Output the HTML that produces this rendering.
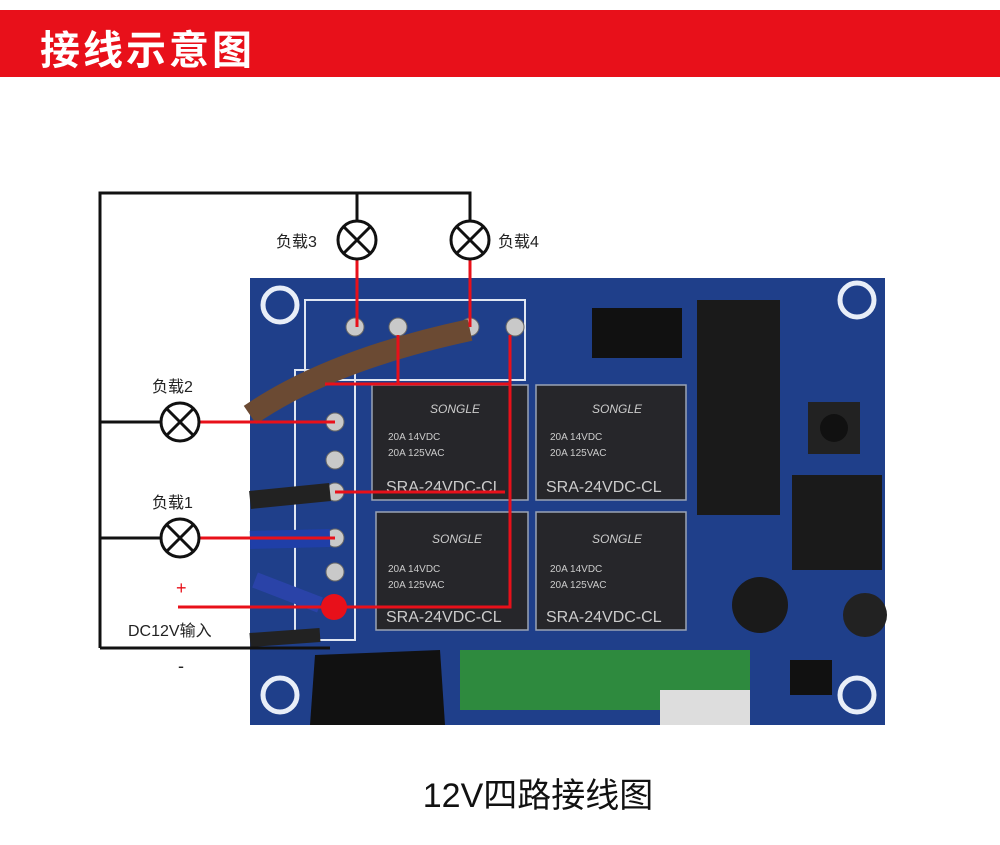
<!DOCTYPE html>
<html><head><meta charset="utf-8"><style>
html,body{margin:0;padding:0;background:#fff;width:1000px;height:845px;overflow:hidden;font-family:"Liberation Sans","Noto Sans CJK SC",sans-serif}
.hdr{position:absolute;left:0;top:10px;width:1000px;height:67px;background:#e8101a}
.hdr span{position:absolute;left:40px;top:8px;color:#fff;font-size:40px;font-weight:bold;letter-spacing:3px;font-family:"Noto Sans CJK SC",sans-serif}
svg{position:absolute;left:0;top:0}
</style></head><body>
<div class="hdr"><span>接线示意图</span></div>
<svg width="1000" height="845" viewBox="0 0 1000 845">
<rect x="250" y="278" width="635" height="447" fill="#1f3f8a"/>
<g fill="none" stroke="#e8eef8" stroke-width="5">
<circle cx="280" cy="305" r="17"/><circle cx="857" cy="300" r="17"/><circle cx="280" cy="695" r="17"/><circle cx="857" cy="695" r="17"/>
</g>
<g fill="none" stroke="#dfe6f2" stroke-width="2">
<rect x="305" y="300" width="220" height="80"/><rect x="295" y="370" width="60" height="270"/>
</g>
<g fill="#c9c9c9" stroke="#666">
<circle cx="355" cy="327" r="9"/><circle cx="398" cy="327" r="9"/><circle cx="470" cy="327" r="9"/><circle cx="515" cy="327" r="9"/>
<circle cx="335" cy="422" r="9"/><circle cx="335" cy="460" r="9"/><circle cx="335" cy="492" r="9"/><circle cx="335" cy="538" r="9"/><circle cx="335" cy="572" r="9"/>
</g>
<path d="M250 415 Q330 360 470 330" stroke="#6b4a33" stroke-width="22" fill="none"/>
<path d="M250 500 L330 492" stroke="#222" stroke-width="18" fill="none"/>
<path d="M250 540 L330 538" stroke="#1f3fa8" stroke-width="18" fill="none"/>
<path d="M255 580 L320 605" stroke="#2a43a8" stroke-width="16" fill="none"/>
<path d="M250 640 L320 635" stroke="#222" stroke-width="14" fill="none"/>
<g fill="#26262a" stroke="#9aa3b5" stroke-width="1.5">
<rect x="372" y="385" width="156" height="115"/><rect x="536" y="385" width="150" height="115"/>
<rect x="376" y="512" width="152" height="118"/><rect x="536" y="512" width="150" height="118"/>
</g>
<g fill="#ccc" font-size="16" font-family="Liberation Sans,sans-serif">
<text x="386" y="492">SRA-24VDC-CL</text><text x="546" y="492">SRA-24VDC-CL</text>
<text x="386" y="622">SRA-24VDC-CL</text><text x="546" y="622">SRA-24VDC-CL</text>
<g font-size="10"><text x="388" y="440">20A 14VDC</text><text x="388" y="456">20A 125VAC</text>
<text x="550" y="440">20A 14VDC</text><text x="550" y="456">20A 125VAC</text>
<text x="388" y="572">20A 14VDC</text><text x="388" y="588">20A 125VAC</text>
<text x="550" y="572">20A 14VDC</text><text x="550" y="588">20A 125VAC</text></g>
<g font-size="12" font-style="italic"><text x="430" y="413">SONGLE</text><text x="592" y="413">SONGLE</text><text x="432" y="543">SONGLE</text><text x="592" y="543">SONGLE</text></g>
</g>
<rect x="697" y="300" width="83" height="215" fill="#1a1a1a"/>
<rect x="792" y="475" width="90" height="95" fill="#1a1a1a"/>
<rect x="808" y="402" width="52" height="52" fill="#222"/><circle cx="834" cy="428" r="14" fill="#111"/>
<rect x="592" y="308" width="90" height="50" fill="#111"/>
<circle cx="760" cy="605" r="28" fill="#1a1a1a"/><circle cx="865" cy="615" r="22" fill="#222"/>
<rect x="790" y="660" width="42" height="35" fill="#111"/>
<rect x="460" y="650" width="290" height="60" fill="#2e8a3e"/>
<rect x="660" y="690" width="90" height="35" fill="#ddd"/>
<path d="M315 655 L440 650 L445 725 L310 725Z" fill="#111"/>
<g stroke="#111" stroke-width="3" fill="none">
<path d="M100 648 V193 H470 V220"/><path d="M357 193 V220"/>
<path d="M100 422 H160"/><path d="M100 538 H160"/>
<path d="M100 648 H330"/>
</g>
<g stroke="#e8101a" stroke-width="3" fill="none">
<path d="M357 260 V327"/><path d="M470 260 V327"/>
<path d="M200 422 H335"/><path d="M200 538 H335"/>
<path d="M178 607 H510 V335"/>
<path d="M398 335 V384 H325"/><path d="M510 384 H398"/>
<path d="M335 492 H505"/>
</g>
<circle cx="334" cy="607" r="13" fill="#e8101a"/>
<g fill="#fff" stroke="#111" stroke-width="3">
<circle cx="357" cy="240" r="19"/><circle cx="470" cy="240" r="19"/><circle cx="180" cy="422" r="19"/><circle cx="180" cy="538" r="19"/>
</g>
<g stroke="#111" stroke-width="3">
<path d="M344 227 L370 253 M370 227 L344 253"/><path d="M457 227 L483 253 M483 227 L457 253"/>
<path d="M167 409 L193 435 M193 409 L167 435"/><path d="M167 525 L193 551 M193 525 L167 551"/>
</g>
<g font-size="16" fill="#222" font-family="Liberation Sans,Noto Sans CJK SC,sans-serif">
<text x="276" y="247">负载3</text><text x="498" y="247">负载4</text>
<text x="152" y="392">负载2</text><text x="152" y="508">负载1</text>
<text x="128" y="636">DC12V输入</text>
<text x="176" y="594" fill="#e8101a" font-size="18">+</text>
<text x="178" y="672" font-size="18">-</text>
</g>
<text x="538" y="807" text-anchor="middle" font-size="34" fill="#111" font-family="Liberation Sans,Noto Sans CJK SC,sans-serif">12V四路接线图</text>
</svg>
</body></html>
